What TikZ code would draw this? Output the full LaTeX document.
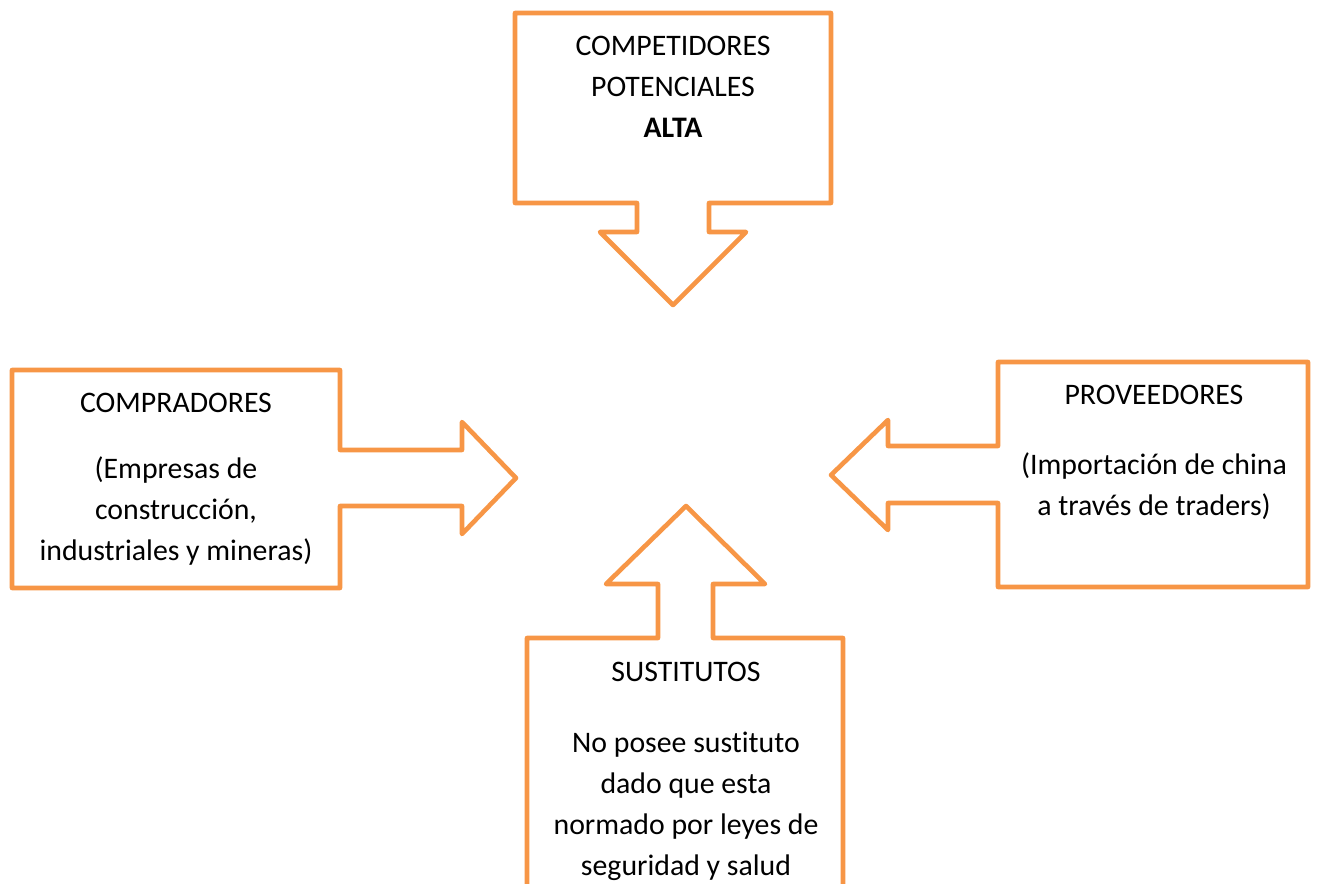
\documentclass[tikz,border=0pt]{standalone}
\usepackage{fontspec}
\setmainfont[Ligatures = NoCommon]{Carlito}
\usetikzlibrary{calc}

\definecolor{callorange}{HTML}{F79646}

\begin{document}
\begin{tikzpicture}[%
        x = 1pt,
        y = -1pt,
        line width = 4.6pt,
        line join = round,
        font = \fontsize{29.8}{41}\selectfont
    ]

        % Fix the page to the size of the original.
        \useasboundingbox (0, 0) rectangle (1318, 884);
        \clip (0, 0) rectangle (1318, 884);

        % Start a group to locally define variable for color.
        \begingroup

            % Color for the outline of the callouts.
            \newcommand{\ccolor}{callorange}

            % coordinates
            \coordinate (T) at (673, 305); % Tip of the top arrow.
            \coordinate (L) at (516, 478); % Tip of the left arrow.
            \coordinate (R) at (831, 475); % Tip of the right arrow.
            \coordinate (B) at (686, 506); % Tip of the bottom arrow.

            % Top callout (competidores).
            \draw[\ccolor] (515, 13) -- (831, 13) -- (831, 203)
                -- (709, 203) -- (709, 232) -- (746, 232) -- (T)
                -- (600, 232) -- (637, 232) -- (637, 203)
                -- (515, 203) -- cycle;

            % Left callout (compradores).
            \draw[\ccolor] (12, 370) -- (340, 370) -- (340, 450)
                -- (462, 450) -- (462, 422) -- (L) -- (462, 534)
                -- (462, 506) -- (340, 506) -- (340, 588)
                -- (12, 588) -- cycle;

            % Right callout (proveedores).
            \draw[\ccolor] (1308, 362) -- (998, 362) -- (998, 446)
                -- (888, 446) -- (888, 420) -- (R) -- (888, 530)
                -- (888, 503) -- (998, 503) -- (998, 587)
                -- (1308, 587) -- cycle;

            % Bottom callout (sustitutos), cut off by the page.
            \draw[\ccolor] (527, 900) -- (527, 638) -- (658, 638)
                -- (658, 584) -- (606, 584) -- (B) -- (765, 584)
                -- (713, 584) -- (713, 638) -- (843, 638)
                -- (843, 900);

            % Texts (base is the baseline of the last line).
            \node (comp) at (673, 137) [anchor = base, align = center]
                {COMPETIDORES\\POTENCIALES\\\textbf{ALTA}};

            \node (compr) at (176, 412) [anchor = base] {COMPRADORES};
            \node (comprtxt) at (176, 560) [anchor = base, align = center]
                {(Empresas de\\construcción,\\industriales y mineras)};

            \node (prov) at (1154, 404) [anchor = base] {PROVEEDORES};
            \node (provtxt) at (1154, 515) [anchor = base, align = center]
                {(Importación de china\\a través de traders)};

            \node (sust) at (686, 681) [anchor = base] {SUSTITUTOS};
            \node (susttxt) at (686, 875) [anchor = base, align = center]
                {No posee sustituto\\dado que esta\\normado por leyes de\\seguridad y salud};
        \endgroup
    \end{tikzpicture}
\end{document}
